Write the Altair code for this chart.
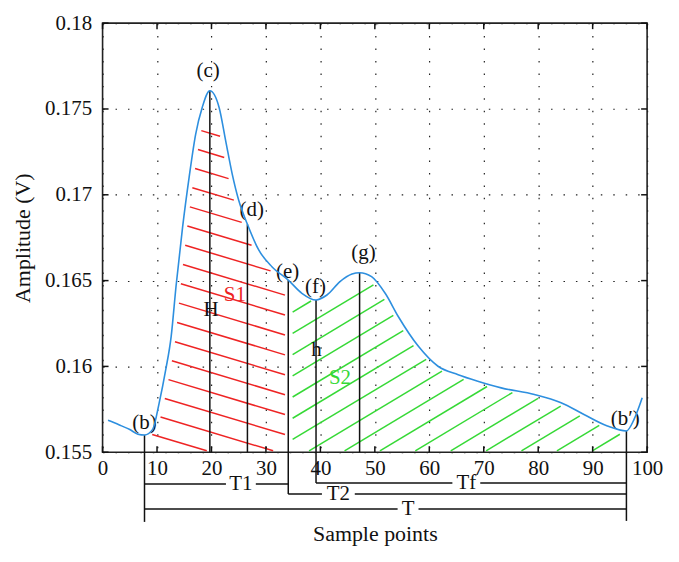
import altair as alt
import numpy as np
import pandas as pd

# ---------------- data ----------------
sample = [1.0, 3.0, 5.0, 6.5, 7.7, 9.2, 10.4, 11.6, 12.6, 13.5, 14.7, 15.9, 17.1,
          18.3, 19.7, 21.4, 22.6, 23.8, 25.0, 26.6, 28.7, 31.1, 34.1, 36.6, 39.2,
          41.2, 43.6, 45.8, 47.2, 49.4, 51.9, 54.3, 58.0, 61.6, 65.3, 68.9, 73.2,
          79.3, 84.2, 88.4, 92.7, 96.2, 97.6, 99.1]
amplitude = [0.15686, 0.15660, 0.15632, 0.15605, 0.15600, 0.15633, 0.15788, 0.15981,
             0.16175, 0.16470, 0.16813, 0.17103, 0.17354, 0.17509, 0.17606, 0.17509,
             0.17316, 0.17122, 0.16968, 0.16828, 0.16677, 0.16581, 0.16503, 0.16426,
             0.16387, 0.16416, 0.16494, 0.16538, 0.16546, 0.16523, 0.16426, 0.16291,
             0.16117, 0.16001, 0.15952, 0.15914, 0.15875, 0.15836, 0.15788, 0.15720,
             0.15653, 0.15624, 0.15691, 0.15817]

x_ticks = [0, 10, 20, 30, 40, 50, 60, 70, 80, 90, 100]
y_ticks = [0.155, 0.16, 0.165, 0.17, 0.175, 0.18]

# characteristic points (b, c, d, e, f, g, b')
feat_key = ["b", "c", "d", "e", "f", "g", "bp"]
feat_x = [7.7, 19.7, 26.6, 34.1, 39.2, 47.2, 96.2]
feat_y = [0.15600, 0.17606, 0.16828, 0.16503, 0.16387, 0.16546, 0.15624]

# point labels
lab_text = ["(b)", "(c)", "(d)", "(e)", "(f)", "(g)", "(b\u2032)", "H", "h"]
lab_x = [7.7, 19.4, 27.4, 34.0, 39.1, 47.9, 96.0, 19.9, 39.3]
lab_y = [0.15672, 0.17722, 0.16910, 0.16552, 0.16461, 0.16658, 0.15695, 0.16329, 0.16093]

area_text = ["S1", "S2"]
area_x = [24.3, 43.6]
area_y = [0.16416, 0.15933]

# time intervals below the axis
int_text = ["T1", "Tf", "T2", "T"]
int_from = ["b", "f", "e", "b"]
int_to = ["e", "bp", "bp", "bp"]
int_label_x = [25.4, 66.8, 43.3, 56.1]

# ---------------- layout / style ----------------
W, H = 547, 431
XMIN, XMAX, YMIN, YMAX = 0, 100, 0.155, 0.18
kx = W / (XMAX - XMIN)          # px per sample
ky = H / (YMAX - YMIN)          # px per volt
FONT = "Liberation Serif"
BLUE, RED, GREEN, INK = "#2d8fdf", "#ee2424", "#36d936", "#111111"

row_px = {"T1": 32, "Tf": 31, "T2": 42, "T": 57}       # rows below the axis
gap_px = {"T1": 30, "Tf": 28, "T2": 33, "T": 21}       # text gaps in the lines
drop_px = {"b": 70, "c": 0, "d": 0, "e": 42, "f": 31, "g": 0, "bp": 69}


def below(px):
    return YMIN - px / ky


fx = dict(zip(feat_key, feat_x))

vdf = pd.DataFrame({"x": feat_x, "y": feat_y,
                    "y2": [below(drop_px[k]) for k in feat_key]})

hrows = []
for t, a, b, lx in zip(int_text, int_from, int_to, int_label_x):
    yy = below(row_px[t])
    half = gap_px[t] / 2 / kx
    hrows.append({"x": fx[a], "x2": lx - half, "y": yy})
    hrows.append({"x": lx + half, "x2": fx[b], "y": yy})
hdf = pd.DataFrame(hrows)
itdf = pd.DataFrame({"x": int_label_x, "y": [below(row_px[t]) for t in int_text],
                     "t": int_text})

xs_c = np.array(sample)
ys_c = np.array(amplitude)


def clip_segment(lo, hi, f_line, delta, gap, bgap):
    xs = np.linspace(lo, hi, 3000)
    yl = f_line(xs)
    c = np.minimum(np.interp(xs - delta, xs_c, ys_c), np.interp(xs + delta, xs_c, ys_c))
    c = np.minimum(c, np.interp(xs, xs_c, ys_c))
    ok = (yl <= c - gap) & (yl >= YMIN + bgap)
    best, cur, start, bs = 0, 0, 0, None
    for i, v in enumerate(ok):
        if v:
            if cur == 0:
                start = i
            cur += 1
            if cur > best:
                best, bs = cur, (start, i)
        else:
            cur = 0
    if bs is None or xs[bs[1]] - xs[bs[0]] < 0.6:
        return None
    i0, i1 = bs
    return {"x": xs[i0], "y": yl[i0], "x2": xs[i1], "y2": yl[i1]}


seg_red = []
m_red = -0.30 * kx / ky
top_red = 0.17356
for k in range(0, 40):
    y0 = top_red - k * 20 / ky
    s = clip_segment(8.6, 33.5, lambda x, y0=y0: y0 + m_red * (x - 20.0), 0.8, 0.0001, 0.00008)
    if s:
        seg_red.append(s)
red_df = pd.DataFrame(seg_red)

seg_green = []
m_green = 0.60 * kx / ky
for k in range(-12, 12):
    xb = 37.5 + 6.5 * k
    s = clip_segment(34.9, 95.0, lambda x, xb=xb: YMIN + m_green * (x - xb), 0.6, 0.0001, 0.00008)
    if s:
        seg_green.append(s)
green_df = pd.DataFrame(seg_green)

tick_len = 6
xt = pd.DataFrame({"x": x_ticks * 2,
                   "y": [YMIN] * len(x_ticks) + [YMAX] * len(x_ticks),
                   "y2": [YMIN + tick_len / ky] * len(x_ticks) + [YMAX - tick_len / ky] * len(x_ticks)})
yt = pd.DataFrame({"y": y_ticks * 2,
                   "x": [XMIN] * len(y_ticks) + [XMAX] * len(y_ticks),
                   "x2": [XMIN + tick_len / kx] * len(y_ticks) + [XMAX - tick_len / kx] * len(y_ticks)})

xs = alt.Scale(domain=[XMIN, XMAX], nice=False, zero=False)
ys = alt.Scale(domain=[YMIN, YMAX], nice=False, zero=False)

x_axis = alt.Axis(
    values=x_ticks, grid=True, gridDash=[1.5, 11], gridColor="#222", gridWidth=1.2,
    ticks=False, domain=False, labelPadding=5, labelFontSize=21, labelFont=FONT,
    labelColor=INK, labelFlush=False, title="Sample points", titleFont=FONT,
    titleFontSize=22, titleFontWeight="normal", titleColor=INK, titleY=89,
    titleBaseline="alphabetic")
y_axis = alt.Axis(
    values=y_ticks, format="~g", grid=True, gridDash=[1.5, 11], gridColor="#222",
    gridWidth=1.2, ticks=False, domain=False, labelPadding=11, labelFontSize=21,
    labelFont=FONT, labelColor=INK, labelFlush=False, title="Amplitude (V)",
    titleFont=FONT, titleFontSize=22, titleFontWeight="normal", titleColor=INK,
    titleAngle=270, titleX=-73, titleY=H / 2, titleAlign="center",
    titleBaseline="alphabetic")


def X(f):
    return alt.X(f, type="quantitative", scale=xs, axis=x_axis)


def Y(f):
    return alt.Y(f, type="quantitative", scale=ys, axis=y_axis)


curve_df = pd.DataFrame({"x": sample, "y": amplitude})
curve = alt.Chart(curve_df).mark_line(interpolate="monotone", color=BLUE, strokeWidth=1.6).encode(
    x=X("x"), y=Y("y"))

red = alt.Chart(red_df).mark_rule(color=RED, strokeWidth=1.5).encode(
    x=X("x"), y=Y("y"), x2="x2:Q", y2="y2:Q")
green = alt.Chart(green_df).mark_rule(color=GREEN, strokeWidth=1.5).encode(
    x=X("x"), y=Y("y"), x2="x2:Q", y2="y2:Q")

vlines = alt.Chart(vdf).mark_rule(color=INK, strokeWidth=1.5).encode(
    x=X("x"), y=Y("y"), y2="y2:Q")
hlines = alt.Chart(hdf).mark_rule(color=INK, strokeWidth=1.5).encode(
    x=X("x"), x2="x2:Q", y=Y("y"))
itext = alt.Chart(itdf).mark_text(font=FONT, fontSize=21, color=INK, baseline="middle").encode(
    x=X("x"), y=Y("y"), text="t:N")

xtick = alt.Chart(xt).mark_rule(color=INK, strokeWidth=1.5).encode(
    x=X("x"), y=Y("y"), y2="y2:Q")
ytick = alt.Chart(yt).mark_rule(color=INK, strokeWidth=1.5).encode(
    x=X("x"), x2="x2:Q", y=Y("y"))

labdf = pd.DataFrame({"x": lab_x, "y": lab_y, "t": lab_text})
labels = alt.Chart(labdf).mark_text(font=FONT, fontSize=21, color=INK, baseline="middle").encode(
    x=X("x"), y=Y("y"), text="t:N")

areadf = pd.DataFrame({"x": area_x, "y": area_y, "t": area_text, "c": [RED, GREEN]})
alabels = alt.Chart(areadf).mark_text(font=FONT, fontSize=21, baseline="middle").encode(
    x=X("x"), y=Y("y"), text="t:N", color=alt.Color("c:N", scale=None))

chart = alt.layer(red, green, vlines, hlines, itext, xtick, ytick, labels, alabels,
                  curve).properties(
    width=W, height=H,
    autosize=alt.AutoSizeParams(type="none"),
    padding={"left": 95, "top": 14, "right": 24, "bottom": 100},
    background="white",
).configure_view(stroke="#222", strokeWidth=1.6)

chart.save("out.html", embed_options={"renderer": "svg", "actions": False})
